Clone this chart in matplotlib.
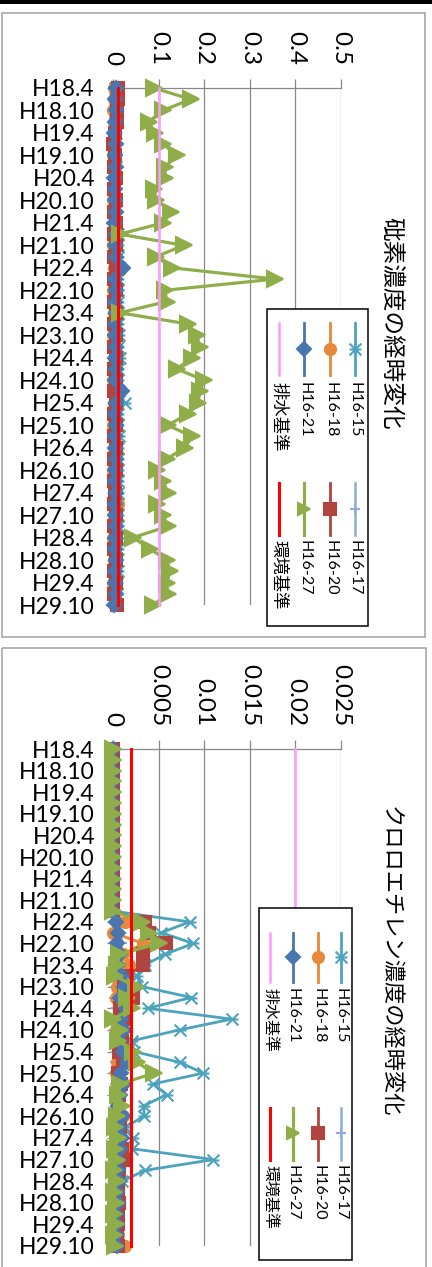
import matplotlib
matplotlib.use("Agg")
import matplotlib.pyplot as plt
from matplotlib.path import Path
from matplotlib.patches import Rectangle

# sampling dates (quarterly), every second one is labelled
periods = ["H18.4", "H18.7", "H18.10", "H19.1", "H19.4", "H19.7", "H19.10", "H20.1",
           "H20.4", "H20.7", "H20.10", "H21.1", "H21.4", "H21.7", "H21.10", "H22.1",
           "H22.4", "H22.7", "H22.10", "H23.1", "H23.4", "H23.7", "H23.10", "H24.1",
           "H24.4", "H24.7", "H24.10", "H25.1", "H25.4", "H25.7", "H25.10", "H26.1",
           "H26.4", "H26.7", "H26.10", "H27.1", "H27.4", "H27.7", "H27.10", "H28.1",
           "H28.4", "H28.7", "H28.10", "H29.1", "H29.4", "H29.7", "H29.10"]
series_names = ["H16-15", "H16-17", "H16-18", "H16-20", "H16-21", "H16-27"]

# arsenic (mg/L)
as_15 = [0.005, 0.006, 0.004, 0.005, 0.006, 0.005, 0.004, 0.006, 0.005, 0.004, 0.006, 0.005, 0.006,
         0.011, 0.012, 0.010, 0.013, 0.012, 0.011, 0.010, 0.012, 0.011, 0.013, 0.012, 0.015, 0.012,
         0.011, 0.013, 0.026, 0.012, 0.011, 0.013, 0.012, 0.011, 0.012, 0.010, 0.011, 0.012, 0.011,
         0.012, 0.010, 0.011, 0.009, 0.010, 0.008, 0.009, 0.008]
as_17 = [0.001, 0.000, 0.001, 0.002, 0.001, 0.000, 0.001, 0.001, 0.002, 0.001, 0.000, 0.001, 0.001,
         0.002, 0.001, 0.000, 0.001, 0.001, 0.002, 0.001, 0.000, 0.001, 0.001, 0.002, 0.001, 0.000,
         0.001, 0.001, 0.002, 0.001, 0.000, 0.001, 0.001, 0.002, 0.001, 0.000, 0.001, 0.001, 0.002,
         0.001, 0.000, 0.001, 0.001, 0.002, 0.001, 0.000, 0.001]
as_18 = [0.003, 0.002, 0.001, 0.002, 0.003, 0.002, 0.001, 0.002, 0.003, 0.002, 0.001, 0.002, 0.003,
         0.002, 0.001, 0.002, 0.003, 0.002, 0.001, 0.002, 0.003, 0.002, 0.001, 0.002, 0.003, 0.002,
         0.001, 0.002, 0.003, 0.002, 0.001, 0.002, 0.003, 0.002, 0.001, 0.002, 0.004, 0.010, 0.003,
         0.002, 0.001, 0.002, 0.003, 0.002, 0.001, 0.002, 0.004]
as_20 = [0.010, 0.011, 0.009, 0.008, 0.004, 0.001, 0.005, 0.002, 0.006, 0.003, 0.007, 0.002, 0.006,
         0.002, 0.007, 0.002, 0.006, 0.003, 0.007, 0.002, 0.006, 0.002, 0.007, 0.003, 0.006, 0.002,
         0.007, 0.002, 0.006, 0.003, 0.007, 0.002, 0.006, 0.002, 0.007, 0.003, 0.004, 0.002, 0.006,
         0.003, 0.007, 0.002, 0.006, 0.002, 0.007, 0.003, 0.008]
as_21 = [0.006, 0.004, 0.007, 0.005, 0.003, 0.006, 0.004, 0.006, 0.003, 0.005, 0.004, 0.006, 0.003,
         0.006, 0.004, 0.007, 0.022, 0.005, 0.006, 0.004, 0.006, 0.005, 0.004, 0.006, 0.005, 0.007,
         0.004, 0.020, 0.006, 0.004, 0.006, 0.005, 0.004, 0.006, 0.005, 0.004, 0.006, 0.005, 0.004,
         0.006, 0.005, 0.004, 0.006, 0.005, 0.004, 0.006, 0.003]
as_27 = [0.090, 0.170, 0.110, 0.078, 0.092, 0.110, 0.140, 0.114, 0.114, 0.090, 0.095, 0.128, 0.110,
         0.015, 0.155, 0.095, 0.130, 0.355, 0.114, 0.118, 0.015, 0.165, 0.184, 0.190, 0.173, 0.140,
         0.200, 0.190, 0.187, 0.165, 0.120, 0.173, 0.158, 0.118, 0.096, 0.110, 0.120, 0.096, 0.110,
         0.120, 0.044, 0.081, 0.118, 0.125, 0.118, 0.120, 0.088]
as_drain = 0.1
as_env = 0.01

# chloroethylene (mg/L)
ce_15 = [0, 0, 0, 0, 0, 0, 0, 0, 0, 0, 0, 0, 0, 0, 0, 0,
         0.0084, 0.0053, 0.0088, 0.0057, 0.0035, 0.0026, 0.0032, 0.0086, 0.0038, 0.0130, 0.0073,
         0.0021, 0.0023, 0.0073, 0.0099, 0.0044, 0.0059, 0.0034, 0.0034, 0.0013, 0.0022, 0.0021,
         0.0110, 0.0035, 0.0010, 0.0005, 0.0003, 0.0003, 0.0002, 0.0003, 0.0002]
ce_17 = [0, 0, 0, 0, 0, 0, 0, 0, 0, 0, 0, 0, 0, 0, 0, 0,
         0.0002, 0.0005, 0.0010, 0.0003, 0.0008, 0.0003, 0.0002, 0.0001, 0.0003, 0.0002, 0.0001,
         0.0002, 0.0003, 0.0002, 0.0001, 0.0002, 0.0001, 0.0002, 0.0001, 0.0002, 0.0001, 0.0002,
         0.0001, 0.0002, 0.0001, 0.0001, 0.0002, 0.0001, 0.0001, 0.0002, 0.0001]
ce_18 = [0, 0, 0, 0, 0, 0, 0, 0, 0, 0, 0, 0, 0, 0, 0, 0,
         0.0013, 0.0000, 0.0033, 0.0011, 0.0018, 0.0006, 0.0004, 0.0003, 0.0008, 0.0005, 0.0003,
         0.0010, 0.0007, 0.0004, 0.0003, 0.0005, 0.0004, 0.0006, 0.0011, 0.0002, 0.0006, 0.0013,
         0.0012, 0.0006, 0.0004, 0.0003, 0.0005, 0.0004, 0.0006, 0.0005, 0.0013]
ce_20 = [0, 0, 0, 0, 0, 0, 0, 0, 0, 0, 0, 0, 0, 0, 0, 0,
         0.0035, 0.0040, 0.0058, 0.0033, 0.0033, 0.0015, 0.0012, 0.0022, 0.0008, 0.0012, 0.0006,
         0.0010, 0.0007, 0.0011, 0.0006, 0.0009, 0.0007, 0.0006, 0.0005, 0.0008, 0.0006, 0.0010,
         0.0011, 0.0007, 0.0006, 0.0005, 0.0007, 0.0005, 0.0006, 0.0004, 0.0005]
ce_21 = [0, 0, 0, 0, 0, 0, 0, 0, 0, 0, 0, 0, 0, 0, 0, 0,
         0.0003, 0.0005, 0.0004, 0.0008, 0.0006, 0.0010, 0.0012, 0.0008, 0.0014, 0.0009, 0.0012,
         0.0007, 0.0011, 0.0015, 0.0009, 0.0012, 0.0008, 0.0006, 0.0011, 0.0007, 0.0010, 0.0008,
         0.0006, 0.0005, 0.0007, 0.0004, 0.0005, 0.0003, 0.0004, 0.0003, 0.0004]
ce_27 = [0, 0, 0, 0, 0, 0, 0, 0, 0, 0, 0, 0, 0, 0, 0, 0,
         0.0032, 0.0039, 0.0050, 0.0007, 0.0004, 0.0002, 0.0025, 0.0015, 0.0021, 0.0000, 0.0008,
         0.0006, 0.0022, 0.0026, 0.0045, 0.0008, 0.0006, 0.0010, 0.0004, 0.0002, 0.0005, 0.0002,
         0.0004, 0.0001, 0.0004, 0.0001, 0.0003, 0.0001, 0.0003, 0.0001, 0.0002]
ce_drain = 0.02
ce_env = 0.002

as_ticks = [0, 0.1, 0.2, 0.3, 0.4, 0.5]
as_ticklabels = ["0", "0.1", "0.2", "0.3", "0.4", "0.5"]
ce_ticks = [0, 0.005, 0.01, 0.015, 0.02, 0.025]
ce_ticklabels = ["0", "0.005", "0.01", "0.015", "0.02", "0.025"]

# styling
star = Path([(-1, -1), (1, 1), (-1, 1), (1, -1), (-1, 0), (1, 0)],
            [Path.MOVETO, Path.LINETO] * 3)
colors = ["#4BA3BD", "#8FAADC", "#E8883A", "#B0443F", "#4A76B0", "#8FAE4A"]
markers = [star, "+", "o", "s", "D", ">"]
msizes = [8.5, 7, 8, 8, 7.5, 11]
lwidths = [2.0, 1.8, 2.0, 2.0, 2.0, 2.3]
PINK = "#FF99FF"
RED = "#FF0000"
GRID = "#888888"
LAT = "Lato"
JP = "Noto Sans CJK JP"

W, H = 432, 1267
fig = plt.figure(figsize=(W / 100, H / 100), dpi=100)


def px_axes(x0, y0, x1, y1):
    return fig.add_axes([x0 / W, 1 - y1 / H, (x1 - x0) / W, (y1 - y0) / H])


def chart(ax, data, drain, env, ticks, ticklabels):
    n = len(periods)
    idx = list(range(n))
    for vals, c, m, s, lw in zip(data, colors, markers, msizes, lwidths):
        ax.plot(vals, idx, color=c, lw=lw, marker=m, ms=s, mfc=c, mec=c,
                mew=1.5, clip_on=False, zorder=3)
    ax.plot([drain, drain], [0, n - 1], color=PINK, lw=1.8, zorder=4, clip_on=False)
    ax.plot([env, env], [0, n - 1], color=RED, lw=2.2, zorder=5, clip_on=False)
    ax.set_xlim(ticks[0], ticks[-1])
    ax.set_ylim(n - 1, 0)
    ax.xaxis.tick_top()
    ax.set_xticks(ticks)
    ax.set_xticklabels(ticklabels, rotation=-90, fontsize=17.5, family=LAT)
    ax.tick_params(axis="x", length=6.5, width=0.9, color=GRID, pad=10)
    ax.set_yticks(idx[::2])
    ax.set_yticklabels(periods[::2], fontsize=16.5, family=LAT)
    ax.tick_params(axis="y", length=4, width=0.9, color=GRID, pad=9)
    ax.grid(axis="x", color=GRID, lw=0.9)
    ax.set_axisbelow(True)
    for side in ["right", "bottom"]:
        ax.spines[side].set_visible(False)
    for side in ["top", "left"]:
        ax.spines[side].set_color(GRID)
        ax.spines[side].set_linewidth(0.9)
    ax.patch.set_alpha(0)


ax1 = px_axes(113, 88, 341, 605)
chart(ax1, [as_15, as_17, as_18, as_20, as_21, as_27], as_drain, as_env,
      as_ticks, as_ticklabels)
ax2 = px_axes(113, 749, 341, 1246)
chart(ax2, [ce_15, ce_17, ce_18, ce_20, ce_21, ce_27], ce_drain, ce_env,
      ce_ticks, ce_ticklabels)

# overlay in pixel coordinates: frames, titles, legends
ov = fig.add_axes([0, 0, 1, 1])
ov.set_xlim(0, W)
ov.set_ylim(H, 0)
ov.axis("off")
ov.set_zorder(10)

ov.add_patch(Rectangle((0, 0), W, 3.5, color="black", lw=0))
ov.add_patch(Rectangle((2, 13), 423, 624, fill=False, ec="#A0A0A0", lw=1.1))
ov.add_patch(Rectangle((2, 648), 424, 622, fill=False, ec="#A0A0A0", lw=1.1))

ov.text(391, 323, "砒素濃度の経時変化", rotation=-90, ha="center", va="center",
        fontsize=17, family=JP)
ov.text(390, 962, "クロロエチレン濃度の経時変化", rotation=-90, ha="center",
        va="center", fontsize=16, family=JP)


def legend(bx0, by0, bx1, by1, rows_x, col_y, jp_size):
    ov.add_patch(Rectangle((bx0, by0), bx1 - bx0, by1 - by0, fc="white",
                           ec="black", lw=1.1, zorder=1))
    entries = []
    for k in range(6):
        entries.append((series_names[k], colors[k], markers[k], msizes[k], lwidths[k]))
    entries.append(("排水基準", PINK, None, 0, 1.8))
    entries.append(("環境基準", RED, None, 0, 2.2))
    for k, (name, c, m, s, lw) in enumerate(entries):
        x = rows_x[k // 2]
        y0, y1, ym, yt = col_y[k % 2]
        ov.plot([x, x], [y0, y1], color=c, lw=lw, zorder=2)
        if m is not None:
            ov.plot([x], [ym], color=c, marker=m, ms=min(s, 9), mfc=c, mec=c,
                    mew=1.5, zorder=3)
        if name.startswith("H"):
            ov.text(x, yt, name, rotation=-90, ha="center", va="top",
                    fontsize=11.5, family=LAT, zorder=3)
        else:
            ov.text(x, yt, name, rotation=-90, ha="center", va="top",
                    fontsize=jp_size, family=JP, zorder=3)


legend(267, 309, 368, 626, [355, 330, 304, 279],
       [(323, 375, 349, 382), (483, 535, 509, 540)], 12.5)
legend(259, 908, 352, 1260, [341, 318, 293, 270],
       [(933, 982, 957, 988), (1108, 1160, 1133, 1165)], 11.5)

fig.savefig("out.png", dpi=100)
